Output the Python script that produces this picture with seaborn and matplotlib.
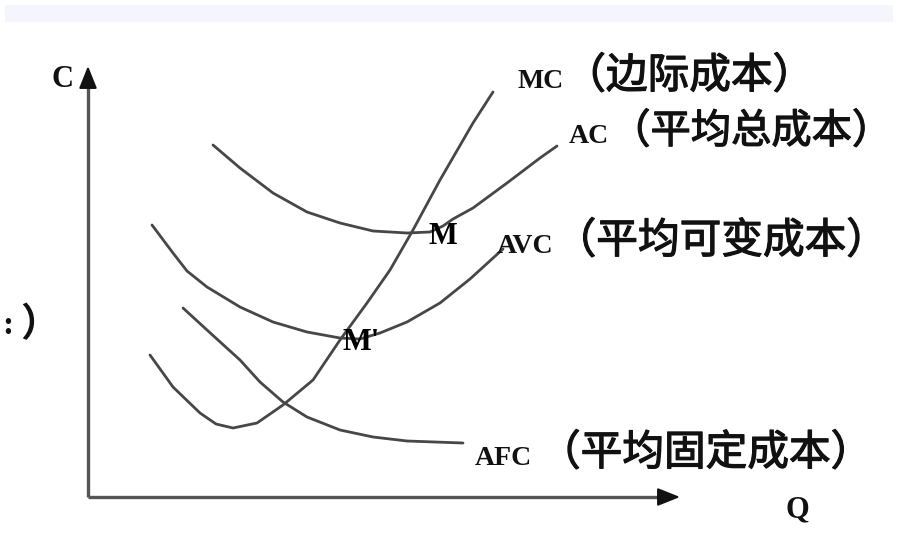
import pandas as pd
import seaborn as sns
import matplotlib.pyplot as plt
import matplotlib.patheffects as pe

# curve points (Q = quantity, C = cost)
ac_q = [2.50, 3.04, 3.70, 4.38, 5.04, 5.70, 6.38, 6.84, 7.10, 7.30, 7.70, 8.38, 9.04, 9.38]
ac_c = [7.04, 6.58, 6.08, 5.70, 5.48, 5.32, 5.28, 5.30, 5.42, 5.56, 5.78, 6.28, 6.78, 7.02]

mc_q = [1.24, 1.70, 2.24, 2.56, 2.90, 3.38, 3.90, 4.50, 5.04, 5.58, 6.04, 6.50, 7.04, 7.70, 8.10]
mc_c = [2.84, 2.20, 1.68, 1.46, 1.38, 1.48, 1.84, 2.34, 3.14, 3.88, 4.54, 5.34, 6.34, 7.48, 8.10]

avc_q = [1.28, 1.70, 1.98, 2.38, 3.04, 3.70, 4.38, 5.04, 5.44, 5.84, 6.38, 7.04, 7.64, 8.30]
avc_c = [5.44, 4.88, 4.52, 4.20, 3.80, 3.50, 3.30, 3.18, 3.16, 3.28, 3.50, 3.88, 4.36, 4.96]

afc_q = [1.90, 2.38, 3.04, 3.44, 3.90, 4.38, 5.04, 5.70, 6.38, 7.50]
afc_c = [3.78, 3.34, 2.74, 2.30, 1.90, 1.60, 1.34, 1.20, 1.12, 1.08]

# curve labels: latin part, chinese part
label_abbr = ["MC", "AC", "AVC", "AFC"]
label_cn = ["（边际成本）", "（平均总成本）", "（平均可变成本）", "（平均固定成本）"]

frames = []
for name, q, c in [("AC", ac_q, ac_c), ("MC", mc_q, mc_c),
                   ("AVC", avc_q, avc_c), ("AFC", afc_q, afc_c)]:
    frames.append(pd.DataFrame({"curve": name, "Q": q, "C": c}))
df = pd.concat(frames, ignore_index=True)

sns.set_style("white")
latin = ["Liberation Serif", "DejaVu Serif"]
cjk = ["Noto Sans CJK SC", "DejaVu Sans"]
thick = [pe.withStroke(linewidth=0.9, foreground="#111")]

fig = plt.figure(figsize=(9, 5.34), dpi=100)
ax = fig.add_axes([0, 0, 1, 1])
ax.set_xlim(-1.76, 16.24)
ax.set_ylim(-0.74, 9.94)
ax.axis("off")

# faint band at the top of the image
ax.axhspan(9.50, 9.84, xmin=0.006, xmax=0.992, color="#f5f5fd", lw=0)

sns.lineplot(data=df, x="Q", y="C", units="curve", estimator=None, sort=False,
             color="#474747", lw=2.0, ax=ax, solid_joinstyle="round",
             solid_capstyle="round")

# axes with arrow heads
ax.plot([0, 0], [0, 8.35], color="#555", lw=2.4, solid_capstyle="butt")
ax.plot([0, 11.6], [0, 0], color="#555", lw=2.4, solid_capstyle="butt")
head = dict(arrowstyle="-|>,head_length=0.55,head_width=0.22",
            mutation_scale=25, color="#111", lw=1.5, shrinkA=0, shrinkB=0)
ax.annotate("", xy=(0, 8.62), xytext=(0, 8.2), arrowprops=head)
ax.annotate("", xy=(11.84, 0), xytext=(11.4, 0), arrowprops=head)

ax.text(-0.5, 8.2, "C", family=latin, weight="bold", fontsize=22,
        ha="center", va="baseline", color="#111")
ax.text(14.18, -0.40, "Q", family=latin, weight="bold", fontsize=22,
        ha="center", va="baseline", color="#111")
# cut-off text at the left edge
ax.text(-1.60, 3.44, ":", family=latin, weight="bold", fontsize=24,
        ha="center", va="center", color="#111")
ax.text(-1.36, 3.44, "）", family=cjk, weight="bold", fontsize=28,
        ha="left", va="center", color="#111")

# curve labels
abbr_pos = [(8.58, 8.18), (9.62, 7.08), (8.18, 4.88), (7.74, 0.64)]
cn_target = [9.02, 10.30, 9.30, 9.02]
cn_size = [30, 29, 30, 30]
fig.canvas.draw()
renderer = fig.canvas.get_renderer()
for abbr, cn, (x, y), cx, fs in zip(label_abbr, label_cn, abbr_pos, cn_target, cn_size):
    t = ax.text(x, y, abbr, family=latin, weight="bold", fontsize=20,
                ha="left", va="baseline", color="#111")
    bb = t.get_window_extent(renderer)
    end_q = ax.transData.inverted().transform((bb.x1, bb.y0))[0]
    ax.text(max(cx, end_q + 0.02), y, cn, family=cjk, weight="normal",
            fontsize=fs, ha="left", va="baseline", color="#111",
            path_effects=thick)

# points M and M'
ax.text(7.10, 5.20, "M", family=latin, weight="bold", fontsize=22,
        ha="center", va="center", color="#000")
ax.text(5.10, 3.08, "M'", family=latin, weight="bold", fontsize=22,
        ha="left", va="center", color="#000")

fig.savefig("out.png", dpi=100)
